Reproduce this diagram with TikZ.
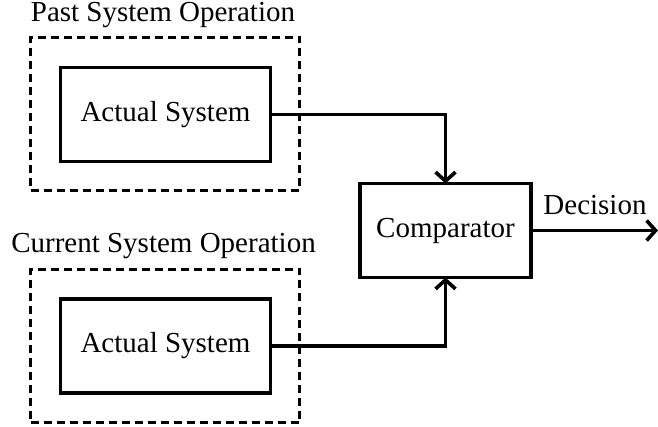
\documentclass[tikz,border=0pt]{standalone}
\usepackage{fontspec}
\setmainfont{Liberation Serif}
\usetikzlibrary{arrows.meta}
\begin{document}
\begin{tikzpicture}[x=1pt,y=-1pt,
  every node/.style={inner sep=0pt,outer sep=0pt,font=\fontsize{29}{34}\selectfont},
  groupbox/.style={draw,line width=3.2pt,dash pattern=on 8pt off 5pt,minimum width=269pt,minimum height=153pt},
  blockbox/.style={draw,line width=3.8pt,minimum width=210pt,minimum height=94pt},
  link/.style={line width=3.8pt,-{Straight Barb[length=9pt,width=20pt,line width=3.6pt]}},
  title/.style={anchor=base}]
\useasboundingbox (0,0) rectangle (658,427);
\node[groupbox] (pastg) at (165,114) {};
\node[blockbox] (pasts) at (165.5,114.5) {Actual System};
\node[title] (pastt) at (163,22) {Past System Operation};
\node[groupbox] (curg) at (165,346) {};
\node[blockbox] (curs) at (165.5,346) {Actual System};
\node[title] (curt) at (163.5,253) {Current System Operation};
\node[draw,line width=3.8pt,minimum width=171pt,minimum height=94pt] (comp) at (445.5,230.5) {Comparator};
\node[title] (dec) at (595,215) {Decision};
\coordinate (out) at (658,230.5);
\draw[link] (pasts.east) -| (comp.north);
\draw[link] (curs.east) -| (comp.south);
\draw[link] (comp.east) -- (out);
\end{tikzpicture}
\end{document}
